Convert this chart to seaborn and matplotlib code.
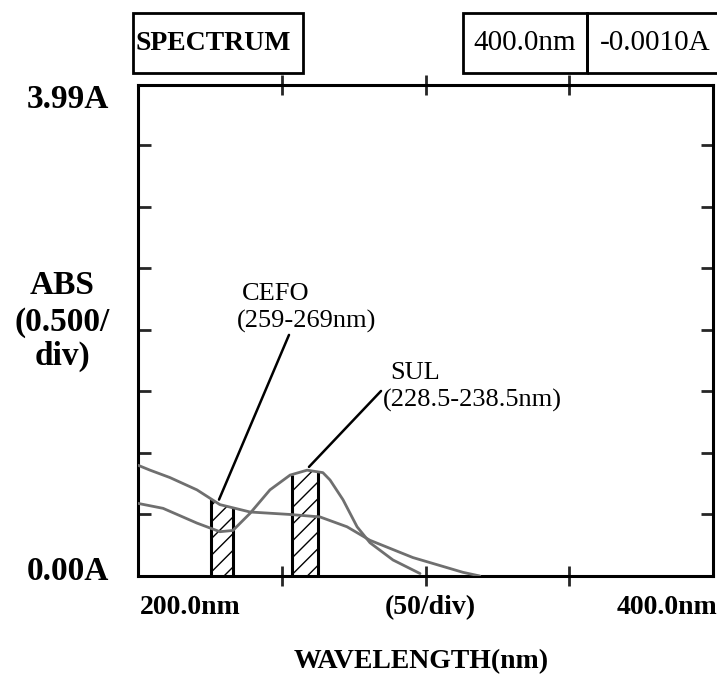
import numpy as np
import pandas as pd
import matplotlib
matplotlib.use("Agg")
import matplotlib.pyplot as plt
import seaborn as sns
from matplotlib.patches import Rectangle

# absorbance curves (wavelength nm, absorbance A)
wl_a = [200, 204.2, 211.1, 220.5, 228.5, 239.0, 252.9, 263.3, 272.7, 280.7, 295.6, 313.0, 318.9]
abs_a = [0.90, 0.86, 0.80, 0.70, 0.58, 0.52, 0.50, 0.48, 0.40, 0.29, 0.15, 0.03, 0.0]

wl_b = [200, 208.7, 220.5, 228.5, 233.0, 239.0, 245.9, 252.9, 258.8, 264.3, 266.8, 271.3, 276.2, 280.7, 288.7, 298.1]
abs_b = [0.59, 0.55, 0.43, 0.36, 0.37, 0.51, 0.70, 0.82, 0.86, 0.84, 0.78, 0.62, 0.40, 0.27, 0.13, 0.02]

# hatched bands (as drawn on the scan)
band_1 = [225.3, 233.1]
band_2 = [253.5, 262.7]

x_ticks = [250, 300, 350]
y_ticks = [0.5, 1.0, 1.5, 2.0, 2.5, 3.0, 3.5]

W, H = 717, 680
fig = plt.figure(figsize=(W / 100, H / 100), dpi=100)
sns.set_style("white")
plt.rcParams['font.family'] = ['Liberation Serif', 'DejaVu Serif']
plt.rcParams['text.color'] = 'black'
plt.rcParams['hatch.linewidth'] = 1.0

def fx(x):
    return x / W

def fy(y):
    return 1 - y / H

ax = fig.add_axes([fx(138), fy(576), fx(713) - fx(138), fy(85) - fy(576)])

df = pd.concat([
    pd.DataFrame({"wl": wl_a, "abs": abs_a, "curve": "a"}),
    pd.DataFrame({"wl": wl_b, "abs": abs_b, "curve": "b"}),
])
sns.lineplot(data=df, x="wl", y="abs", units="curve", estimator=None,
             color="#6f6f6f", linewidth=2.0, ax=ax, legend=False, zorder=5)

# hatched bands under the curves
for (lo, hi), wl, ab in [(band_1, wl_a, abs_a), (band_2, wl_b, abs_b)]:
    xs = [lo] + [w for w in wl if lo < w < hi] + [hi]
    ys = np.interp(xs, wl, ab)
    ax.fill_between(xs, 0, ys, facecolor="none", edgecolor="black",
                    hatch="//", linewidth=0, zorder=3)
    ax.vlines([lo, hi], 0, [ys[0], ys[-1]], color="black", linewidth=2.2, zorder=4)

ax.set_xlim(200, 400)
ax.set_ylim(0, 3.99)
ax.set_xticks(x_ticks)
ax.set_yticks(y_ticks)
ax.set_xticklabels([])
ax.set_yticklabels([])
ax.set_xlabel("")
ax.set_ylabel("")
ax.tick_params(axis="x", which="both", direction="inout", length=14, width=2,
               top=True, bottom=True)
ax.tick_params(axis="y", which="both", direction="out", length=9, width=2, left=True)
ax.tick_params(axis="y", which="both", right=True, direction="in")
for s in ax.spines.values():
    s.set_visible(True)
    s.set_linewidth(2.2)
    s.set_color("black")

# annotations
ax.annotate("", xy=(227.8, 0.60), xytext=(252.9, 1.98),
            arrowprops=dict(arrowstyle="-", color="black", linewidth=1.8))
ax.text(236.2, 2.29, "CEFO", fontsize=19, va="center", ha="left")
ax.text(234.5, 2.07, "(259-269nm)", fontsize=19, va="center", ha="left")
ax.annotate("", xy=(258.8, 0.87), xytext=(285.2, 1.52),
            arrowprops=dict(arrowstyle="-", color="black", linewidth=1.8))
ax.text(287.6, 1.65, "SUL", fontsize=19, va="center", ha="left")
ax.text(285.0, 1.43, "(228.5-238.5nm)", fontsize=19, va="center", ha="left")

# header boxes
for x0, x1 in [(133, 303), (463, 587), (587, 722)]:
    fig.add_artist(Rectangle((fx(x0), fy(73)), fx(x1) - fx(x0), fy(13) - fy(73),
                             transform=fig.transFigure, fill=False,
                             edgecolor="black", linewidth=2.0, clip_on=False))
fig.text(fx(213), fy(43), "SPECTRUM", fontsize=20, fontweight="bold", ha="center", va="center")
fig.text(fx(525), fy(43), "400.0nm", fontsize=21, ha="center", va="center")
fig.text(fx(655), fy(43), "-0.0010A", fontsize=21, ha="center", va="center")

# outer axis labels
bold = dict(fontsize=20, fontweight="bold", ha="center", va="center")
side = dict(bold, fontsize=24)
fig.text(fx(68), fy(100), "3.99A", **side)
fig.text(fx(68), fy(572), "0.00A", **side)
fig.text(fx(62), fy(285), "ABS", **side)
fig.text(fx(62), fy(322), "(0.500/", **side)
fig.text(fx(62), fy(356), "div)", **side)
fig.text(fx(190), fy(608), "200.0nm", **bold)
fig.text(fx(430), fy(608), "(50/div)", **bold)
fig.text(fx(667), fy(608), "400.0nm", **bold)
fig.text(fx(421), fy(662), "WAVELENGTH(nm)", **bold)

fig.savefig("out.png", dpi=100)
